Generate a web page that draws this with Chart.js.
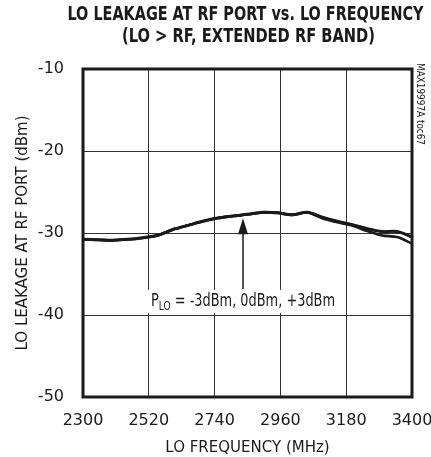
<!DOCTYPE html>
<html>
<head>
<meta charset="utf-8">
<script src="https://cdn.jsdelivr.net/npm/chart.js@4.4.1/dist/chart.umd.min.js"></script>
<style>
    html, body { margin: 0; padding: 0; background: #fff; }
    #chart { display: block; }
</style>
</head>
<body>
<canvas id="chart" width="431" height="457"></canvas>
<script>
// LO frequency (MHz)
const freqs = [2300, 2350, 2400, 2450, 2500, 2550, 2600, 2650, 2700, 2750, 2800, 2850,
               2900, 2950, 3000, 3050, 3100, 3150, 3200, 3250, 3300, 3350, 3400];

// LO leakage at RF port (dBm), one list per LO drive level
const leakMinus3 = [-30.8, -30.85, -30.9, -30.8, -30.6, -30.3, -29.6, -29.1, -28.6, -28.2, -27.95, -27.75,
                    -27.5, -27.55, -27.8, -27.5, -28.2, -28.7, -29.1, -29.75, -30.3, -30.5, -31.3];
const leak0      = [-30.8, -30.85, -30.9, -30.8, -30.6, -30.3, -29.6, -29.1, -28.6, -28.2, -27.95, -27.75,
                    -27.5, -27.55, -27.8, -27.5, -28.1, -28.6, -29.0, -29.5, -29.85, -29.85, -30.5];
const leakPlus3  = [-30.75, -30.8, -30.85, -30.75, -30.55, -30.25, -29.55, -29.05, -28.55, -28.15, -27.9, -27.7,
                    -27.45, -27.5, -27.75, -27.45, -28.05, -28.55, -28.95, -29.45, -29.8, -29.8, -30.45];

const xTicks = [2300, 2520, 2740, 2960, 3180, 3400];
const yTicks = [-50, -40, -30, -20, -10];

const FONT = "'DejaVu Sans', sans-serif";
const INK = '#1a1a1a';

const series = [
    { label: 'PLO = -3dBm', data: leakMinus3 },
    { label: 'PLO = 0dBm', data: leak0 },
    { label: 'PLO = +3dBm', data: leakPlus3 }
];

// squeeze a text line to a given width (the original uses a very narrow face)
function fitText(ctx, text, cx, cy, width) {
    const w = ctx.measureText(text).width;
    ctx.save();
    ctx.translate(cx, cy);
    ctx.scale(Math.min(1, width / w), 1);
    ctx.fillText(text, 0, 0);
    ctx.restore();
}

// Frame, headings, side note and the arrow annotation
const decorations = {
    id: 'decorations',
    afterDatasetsDraw(chart) {
        const ctx = chart.ctx;
        const area = chart.chartArea;
        const xs = chart.scales.x;
        const ys = chart.scales.y;
        ctx.save();

        // annotation label with white backing
        const ax = xs.getPixelForValue(2835);
        const labelY = ys.getPixelForValue(-38.4);
        const big = 'condensed 17px ' + FONT;
        const small = 'condensed 12px ' + FONT;
        const rest = ' = -3dBm, 0dBm, +3dBm';
        ctx.font = big;
        const pW = ctx.measureText('P').width;
        const restW = ctx.measureText(rest).width;
        ctx.font = small;
        const subW = ctx.measureText('LO').width;
        const total = pW + subW + restW;
        const sx = 184 / total;
        ctx.fillStyle = '#fff';
        ctx.fillRect(ax - 95, labelY - 12, 190, 23);
        ctx.save();
        ctx.translate(ax - 92, labelY);
        ctx.scale(sx, 1);
        ctx.fillStyle = INK;
        ctx.textBaseline = 'middle';
        ctx.textAlign = 'left';
        ctx.font = big;
        ctx.fillText('P', 0, 0);
        ctx.font = small;
        ctx.fillText('LO', pW, 5);
        ctx.font = big;
        ctx.fillText(rest, pW + subW, 0);
        ctx.restore();

        // arrow up to the curves
        const tipY = ys.getPixelForValue(-28.2);
        const baseY = labelY - 13;
        ctx.fillStyle = INK;
        ctx.strokeStyle = INK;
        ctx.lineWidth = 1.5;
        ctx.beginPath();
        ctx.moveTo(ax, baseY);
        ctx.lineTo(ax, tipY + 12);
        ctx.stroke();
        ctx.beginPath();
        ctx.moveTo(ax, tipY);
        ctx.lineTo(ax - 5, tipY + 16);
        ctx.lineTo(ax + 5, tipY + 16);
        ctx.closePath();
        ctx.fill();

        // plot frame
        ctx.lineWidth = 3;
        ctx.strokeStyle = INK;
        ctx.strokeRect(area.left, area.top, area.right - area.left, area.bottom - area.top);

        // headings
        ctx.textAlign = 'center';
        ctx.textBaseline = 'middle';
        ctx.font = 'condensed bold 19px ' + FONT;
        const cx = (area.left + area.right) / 2;
        fitText(ctx, 'LO LEAKAGE AT RF PORT vs. LO FREQUENCY', cx - 2, 15, 356);
        fitText(ctx, '(LO > RF, EXTENDED RF BAND)', cx + 1, 37, 253);

        // side note
        ctx.font = 'condensed 10px ' + FONT;
        ctx.translate(area.right + 8, area.top - 6);
        ctx.rotate(Math.PI / 2);
        ctx.textAlign = 'left';
        fitText(ctx, 'MAX19997A toc67', 0, 0, 82);
        ctx.restore();
    }
};

new Chart(document.getElementById('chart'), {
    type: 'line',
    data: {
        datasets: series.map(s => ({
            label: s.label,
            data: freqs.map((f, i) => ({ x: f, y: s.data[i] })),
            borderColor: INK,
            borderWidth: 2.6,
            pointRadius: 0,
            tension: 0.3,
            fill: false
        }))
    },
    options: {
        responsive: false,
        animation: false,
        layout: { padding: { left: 0, top: 69, right: 19, bottom: 0 } },
        plugins: {
            legend: { display: false },
            tooltip: { enabled: false }
        },
        scales: {
            x: {
                type: 'linear',
                min: 2300,
                max: 3400,
                afterBuildTicks: scale => { scale.ticks = xTicks.map(v => ({ value: v })); },
                afterFit: scale => {
                    scale.height = 60;
                    scale.paddingLeft = 0;
                    scale.paddingRight = 0;
                },
                grid: { color: '#333', lineWidth: 1, drawTicks: false },
                border: { display: false },
                ticks: {
                    color: INK,
                    padding: 14,
                    font: { family: FONT, size: 16, style: 'condensed' },
                    callback: v => String(v)
                },
                title: {
                    display: true,
                    text: 'LO FREQUENCY (MHz)',
                    color: INK,
                    font: { family: FONT, size: 15, style: 'condensed' },
                    padding: { top: 3, bottom: 0 }
                }
            },
            y: {
                min: -50,
                max: -10,
                afterBuildTicks: scale => { scale.ticks = yTicks.map(v => ({ value: v })); },
                afterFit: scale => { scale.width = 83; },
                grid: { color: '#333', lineWidth: 1, drawTicks: false },
                border: { display: false },
                ticks: {
                    color: INK,
                    padding: 19,
                    font: { family: FONT, size: 16, style: 'condensed' },
                    callback: v => String(v)
                },
                title: {
                    display: true,
                    text: 'LO LEAKAGE AT RF PORT (dBm)',
                    color: INK,
                    font: { family: FONT, size: 15, style: 'condensed' },
                    padding: { top: 14, bottom: 0 }
                }
            }
        }
    },
    plugins: [decorations]
});
</script>
</body>
</html>
